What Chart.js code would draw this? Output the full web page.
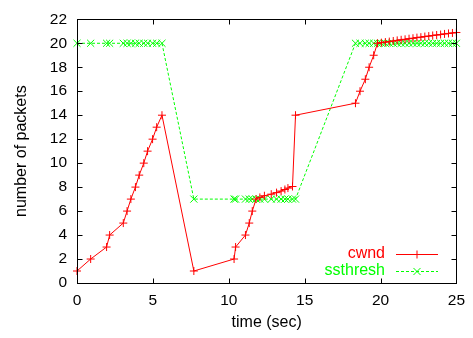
<!DOCTYPE html>
<html>
<head>
<meta charset="utf-8">
<script src="https://cdn.jsdelivr.net/npm/chart.js@4/dist/chart.umd.min.js"></script>
<style>
  html, body { margin: 0; padding: 0; background: #fff; }
  #wrap { width: 473px; height: 338px; }
</style>
</head>
<body>
<div id="wrap"><canvas id="tcp"></canvas></div>
<script>
// sample times (sec), shared by both series
var times = [0, 0.9, 1.95, 2.15, 3.05, 3.3, 3.55, 3.85, 4.1, 4.4, 4.65, 4.98, 5.25, 5.6,
  7.7, 10.35, 10.45, 11.1, 11.35, 11.55, 11.8, 12.05, 12.35, 12.8, 13.15, 13.45, 13.7, 13.9, 14.2, 14.4,
  18.35, 18.65, 19.0, 19.25, 19.55,
  19.8, 20.06, 20.32, 20.58, 20.84, 21.1, 21.36, 21.62, 21.88, 22.14, 22.4, 22.66, 22.92,
  23.18, 23.44, 23.7, 23.96, 24.22, 24.48, 24.74, 25.0];

var cwnd = [1, 2, 3, 4, 5, 6, 7, 8, 9, 10, 11, 12, 13, 14,
  1, 2, 3, 4, 5, 6, 7, 7.14, 7.28, 7.41, 7.54, 7.67, 7.8, 7.92, 8.05, 14,
  15, 16, 17, 18, 19,
  20, 20.05, 20.1, 20.14, 20.19, 20.24, 20.29, 20.33, 20.38, 20.42, 20.47, 20.51, 20.56,
  20.6, 20.65, 20.69, 20.73, 20.78, 20.82, 20.86, 20.9];

var ssthresh = [20, 20, 20, 20, 20, 20, 20, 20, 20, 20, 20, 20, 20, 20,
  7, 7, 7, 7, 7, 7, 7, 7, 7, 7, 7, 7, 7, 7, 7, 7,
  20, 20, 20, 20, 20,
  20, 20, 20, 20, 20, 20, 20, 20, 20, 20, 20, 20, 20,
  20, 20, 20, 20, 20, 20, 20, 20];

var seriesNames = ['cwnd', 'ssthresh'];
var xTicks = [0, 5, 10, 15, 20, 25];
var yTicks = [0, 2, 4, 6, 8, 10, 12, 14, 16, 18, 20, 22];

var RED = '#ff0000';
var GREEN = '#00ff00';
var FAMILY = '"Liberation Sans", Arial, sans-serif';
var FONT = '16px ' + FAMILY;

function pts(vals) {
  return times.map(function (t, i) { return { x: t, y: vals[i] }; });
}

// gnuplot-ish frame: border box, inward ticks on all sides, axis titles, key
const gnuFrame = {
  id: 'gnuFrame',
  afterDraw(chart) {
    const ctx = chart.ctx;
    const a = chart.chartArea;
    const xs = chart.scales.x, ys = chart.scales.y;
    const L = Math.round(a.left) + 0.5, R = Math.round(a.right) + 0.5;
    const T = Math.round(a.top) + 0.5, B = Math.round(a.bottom) + 0.5;
    ctx.save();
    ctx.strokeStyle = '#000';
    ctx.lineWidth = 1;
    ctx.setLineDash([]);
    ctx.strokeRect(L, T, R - L, B - T);
    ctx.beginPath();
    xTicks.forEach(function (v) {
      const px = Math.round(xs.getPixelForValue(v)) + 0.5;
      ctx.moveTo(px, B); ctx.lineTo(px, B - 5);
      ctx.moveTo(px, T); ctx.lineTo(px, T + 5);
    });
    yTicks.forEach(function (v) {
      const py = Math.round(ys.getPixelForValue(v)) + 0.5;
      ctx.moveTo(L, py); ctx.lineTo(L + 5, py);
      ctx.moveTo(R, py); ctx.lineTo(R - 5, py);
    });
    ctx.stroke();

    // axis titles
    ctx.fillStyle = '#000';
    ctx.font = FONT;
    ctx.textAlign = 'center';
    ctx.textBaseline = 'middle';
    ctx.fillText('time (sec)', (a.left + a.right) / 2, 323);
    ctx.save();
    ctx.translate(22, (a.top + a.bottom) / 2);
    ctx.rotate(-Math.PI / 2);
    ctx.fillText('number of packets', 0, 0);
    ctx.restore();

    // key, bottom right
    const rows = [
      { name: seriesNames[0], color: RED, dash: [], style: 'cross', r: 4, y: 254 },
      { name: seriesNames[1], color: GREEN, dash: [3, 2], style: 'crossRot', r: 5, y: 271 }
    ];
    rows.forEach(function (k) {
      ctx.fillStyle = k.color;
      ctx.textAlign = 'right';
      ctx.fillText(k.name, 385, k.y);
      ctx.strokeStyle = k.color;
      ctx.setLineDash(k.dash);
      ctx.beginPath();
      ctx.moveTo(396, k.y + 0.5); ctx.lineTo(438, k.y + 0.5);
      ctx.stroke();
      ctx.setLineDash([]);
      Chart.helpers.drawPoint(ctx, { pointStyle: k.style, radius: k.r, borderWidth: 1 }, 417, k.y + 0.5);
    });
    ctx.restore();
  }
};

const config = {
  type: 'line',
  data: {
    datasets: [{
      label: seriesNames[0],
      data: pts(cwnd),
      borderColor: RED,
      backgroundColor: RED,
      borderWidth: 1,
      pointStyle: 'cross',
      pointRadius: 4,
      pointBorderWidth: 1,
      tension: 0,
      clip: false
    },
    {
      label: seriesNames[1],
      data: pts(ssthresh),
      borderColor: GREEN,
      backgroundColor: GREEN,
      borderWidth: 1,
      borderDash: [3, 2],
      pointStyle: 'crossRot',
      pointRadius: 5,
      pointBorderWidth: 1,
      tension: 0,
      clip: false
    }]
  },
  options: {
    responsive: true,
    maintainAspectRatio: false,
    animation: false,
    devicePixelRatio: 1,
    layout: { padding: { left: 0, top: 14, right: 16, bottom: 0 } },
    plugins: {
      legend: { display: false },
      tooltip: { enabled: false }
    },
    scales: {
      x: {
        type: 'linear',
        min: 0, max: 25,
        afterBuildTicks: function (s) { s.ticks = xTicks.map(function (v) { return { value: v }; }); },
        afterFit: function (s) { s.height = 55; },
        grid: { display: false, drawTicks: false },
        border: { display: false },
        ticks: { color: '#000', font: { family: FAMILY, size: 15.5 }, padding: 8, maxRotation: 0 }
      },
      y: {
        type: 'linear',
        min: 0, max: 22,
        afterBuildTicks: function (s) { s.ticks = yTicks.map(function (v) { return { value: v }; }); },
        afterFit: function (s) { s.width = 77; },
        grid: { display: false, drawTicks: false },
        border: { display: false },
        ticks: { color: '#000', font: { family: FAMILY, size: 15.5 }, padding: 10 }
      }
    }
  },
  plugins: [gnuFrame]
};

const tcpChart = new Chart(document.getElementById('tcp'), config);
</script>
</body>
</html>
